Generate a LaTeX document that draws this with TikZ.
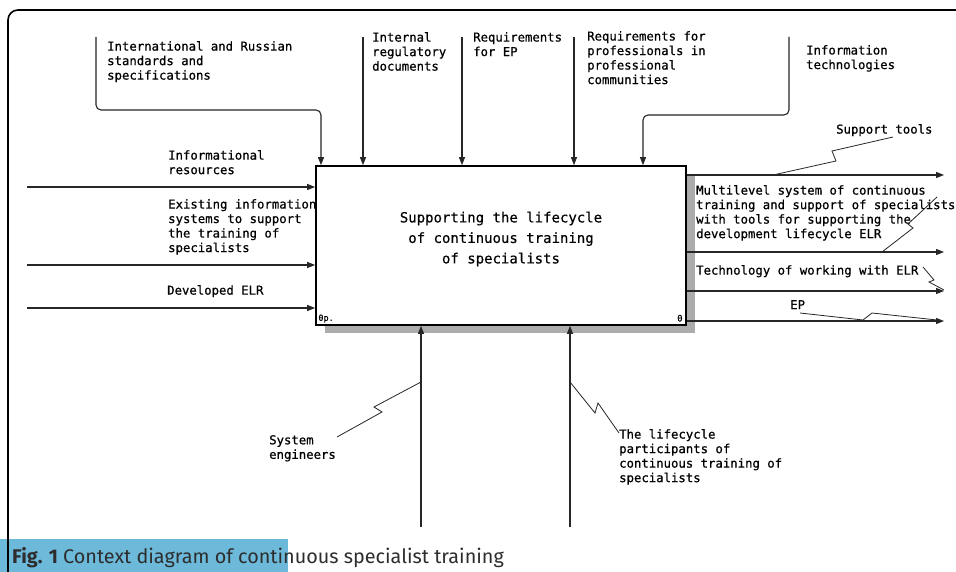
\documentclass[tikz,border=0pt]{standalone}
\usepackage{fontspec}
\newfontfamily\idefont[FakeBold=0.6]{DejaVu Sans Mono}
\newfontfamily\boxfont[FakeBold=0.3]{DejaVu Sans Mono}
\newfontfamily\capfont{Fira Sans}
\usetikzlibrary{arrows.meta,calc}
\definecolor{capblue}{RGB}{108,185,218}
\definecolor{captext}{RGB}{45,45,45}
\definecolor{shadowgray}{RGB}{172,172,172}
\tikzset{
  lbl/.style={anchor=north west, inner sep=0pt, align=left,
    font=\idefont\fontsize{12.3}{14.5}\selectfont},
  flow/.style={draw=black!85, line width=1.1pt,
    -{Triangle[length=8pt,width=6pt]}},
  bendflow/.style={flow, rounded corners=5pt},
  squig/.style={draw=black!85, line width=0.8pt},
}
\begin{document}
\begin{tikzpicture}[x=1pt,y=-1pt]
\useasboundingbox (0,0) rectangle (956,572);
\fill[white] (0,0) rectangle (956,572);

% outer frame
\draw[line width=1.6pt, rounded corners=10pt] (8,580) -- (8,10) -- (960,10);

% activity box with its shadow
\fill[shadowgray] (686,175) rectangle (695,333);
\fill[shadowgray] (325,325) rectangle (695,333);
\node[draw, fill=white, line width=1.6pt, minimum width=370pt, minimum height=159pt,
  inner sep=0pt] (box) at (501,245.5) {};
\node[align=center, font=\boxfont\fontsize{14}{20.5}\selectfont] (boxtxt) at (501,239)
  {Supporting the lifecycle\\of continuous training\\of specialists};
\node[anchor=south west, inner sep=3pt, font=\idefont\fontsize{8.5}{9}\selectfont] (opn) at (box.south west) {0p.};
\node[anchor=south east, inner sep=4pt, font=\idefont\fontsize{9}{9}\selectfont] (num) at (box.south east) {0};

% free ends of the connectors
\coordinate (c1) at (96,37);
\coordinate (c2) at (363,37);
\coordinate (c3) at (462,37);
\coordinate (c4) at (574,37);
\coordinate (c5) at (789,37);
\coordinate (i1) at (27,187);
\coordinate (i2) at (27,265);
\coordinate (i3) at (27,308);
\coordinate (o1) at (944,175);
\coordinate (o2) at (944,252);
\coordinate (o3) at (944,291);
\coordinate (o4) at (944,321);
\coordinate (m1) at (421,527);
\coordinate (m2) at (570,527);

% controls
\draw[bendflow] (c1) -- (96,110) -- (321,110) -- (321,0 |- box.north);
\draw[flow] (c2) -- (c2 |- box.north);
\draw[flow] (c3) -- (c3 |- box.north);
\draw[flow] (c4) -- (c4 |- box.north);
\draw[bendflow] (c5) -- (789,115) -- (643,115) -- (643,0 |- box.north);

% inputs
\draw[flow] (i1) -- (box.west |- i1);
\draw[flow] (i2) -- (box.west |- i2);
\draw[flow] (i3) -- (box.west |- i3);

% outputs
\draw[flow] (box.east |- o1) -- (o1);
\draw[flow] (box.east |- o2) -- (o2);
\draw[flow] (box.east |- o3) -- (o3);
\draw[flow] (box.east |- o4) -- (o4);

% mechanisms
\draw[flow] (m1) -- (m1 |- box.south);
\draw[flow] (m2) -- (m2 |- box.south);

% labels
\node[lbl] (lc1) at (107,41) {International and Russian\\standards and\\specifications};
\node[lbl] (lc2) at (372,32) {Internal\\regulatory\\documents};
\node[lbl] (lc3) at (473,32) {Requirements\\for EP};
\node[lbl] (lc4) at (587,31) {Requirements for\\professionals in\\professional\\communities};
\node[lbl] (lc5) at (806,45) {Information\\technologies};
\node[lbl] (li1) at (168,150) {Informational\\resources};
\node[lbl] (li2) at (168,199) {Existing information\\systems to support\\the training of\\specialists};
\node[lbl] (li3) at (167,285) {Developed ELR};
\node[lbl] (lo1) at (836,124) {Support tools};
\node[lbl] (lo2) at (696,185) {Multilevel system of continuous\\training and support of specialists\\with tools for supporting the\\development lifecycle ELR};
\node[lbl] (lo3) at (696,265) {Technology of working with ELR};
\node[lbl] (lo4) at (790,300) {EP};
\node[lbl] (lm1) at (269,435) {System\\engineers};
\node[lbl] (lm2) at (619,429) {The lifecycle\\participants of\\continuous training of\\specialists};

% squiggles tying labels to their arrows
\draw[squig] (893,137) -- (832,151) -- (836,161) -- (773,175);
\draw[squig] (937,197) -- (908,224) -- (913,228) -- (882,252);
\draw[squig] (923,267) -- (934,280) -- (929,282) -- (944,290);
\draw[squig] (800,313) -- (863,320) -- (872,313) -- (937,320);
\draw[squig] (337,437) -- (382,412) -- (374,407) -- (421,382);
\draw[squig] (619,433) -- (598,403) -- (595,413) -- (570,382);

% caption
\fill[capblue] (0,539) rectangle (288,572);
\draw[line width=1.6pt] (8,539) -- (8,572);
\node[anchor=base west, inner sep=0pt, text=captext,
  font=\capfont\fontsize{19.8}{22}\selectfont] (cap) at (12,563)
  {\textbf{Fig. 1} Context diagram of continuous specialist training};
\end{tikzpicture}
\end{document}
